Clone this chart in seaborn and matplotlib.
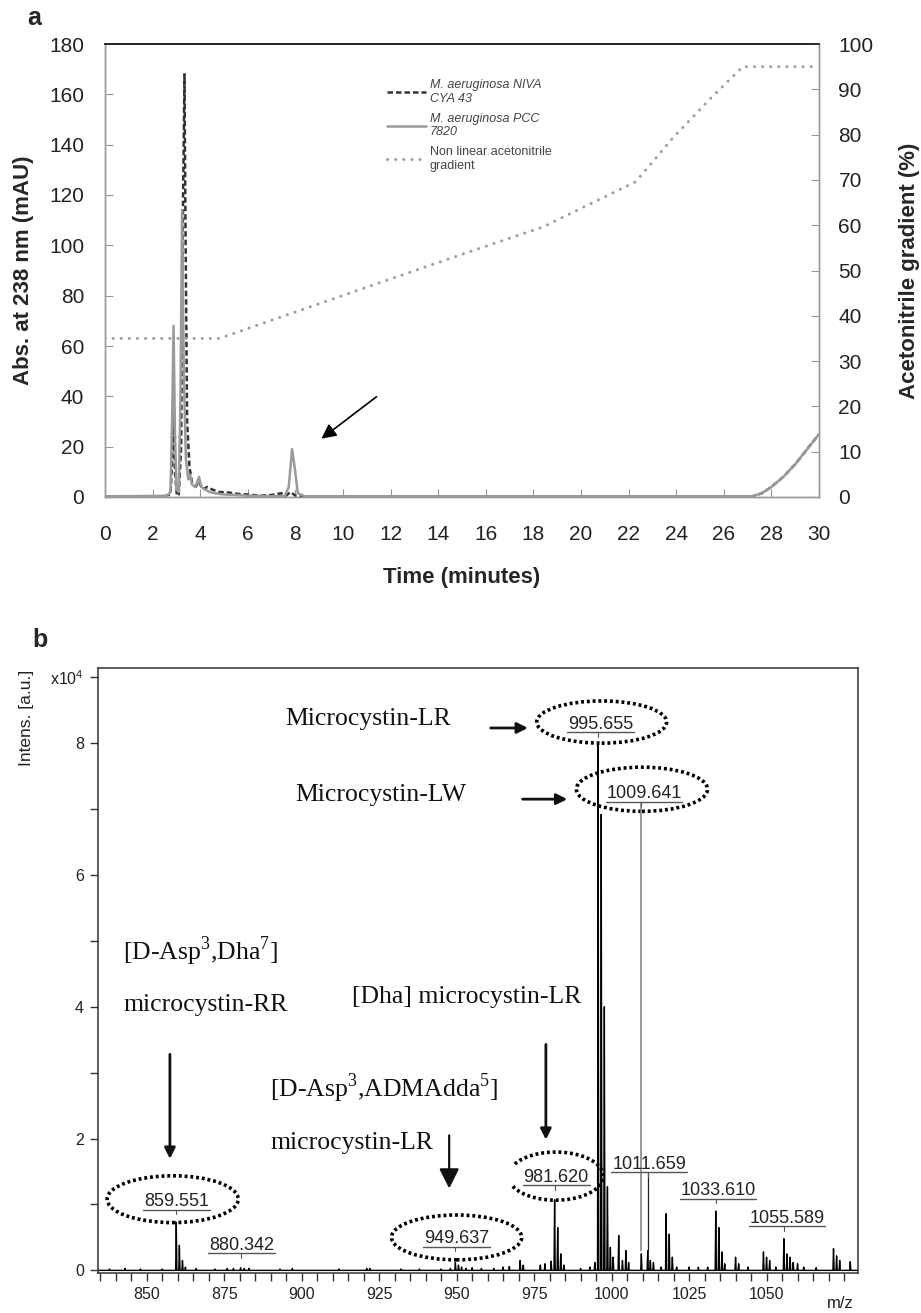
import numpy as np
import pandas as pd
import matplotlib
matplotlib.use("Agg")
import matplotlib.pyplot as plt
import seaborn as sns
from matplotlib.patches import Ellipse

# ---- panel a: HPLC traces ----
niva_time = [0, 2.5, 2.75, 2.83, 2.88, 2.94, 3.02, 3.1, 3.2, 3.28, 3.34, 3.38, 3.45, 3.55, 3.65,
             3.8, 3.95, 4.1, 4.3, 4.5, 4.8, 5.2, 5.6, 6.0, 6.5, 7.0, 7.4, 7.6, 7.8, 8.0, 8.3,
             27.2, 27.6, 28.0, 28.5, 29.0, 29.5, 30]
niva_abs = [0.2, 0.3, 1, 15, 38, 10, 0.5, 1, 20, 120, 168, 110, 30, 12, 6,
            4, 6, 3, 4, 3, 2, 1.8, 1.2, 1, 0.5, 0.8, 1.5, 0.5, 2, 0.5, 0.3,
            0.3, 1.5, 4, 8, 13, 19, 25]
pcc_time = [0, 2.0, 2.6, 2.75, 2.82, 2.88, 2.94, 3.0, 3.1, 3.17, 3.24, 3.31, 3.4, 3.5, 3.57,
            3.65, 3.78, 3.88, 3.95, 4.05, 4.2, 4.4, 4.6, 5.0, 5.5, 6.0, 7.0, 7.55, 7.72, 7.86,
            7.98, 8.1, 8.4, 27.2, 27.6, 28.0, 28.5, 29.0, 29.5, 30]
pcc_abs = [0.3, 0.4, 0.5, 2, 30, 68, 25, 3, 2, 40, 114, 50, 15, 7, 9,
           5, 4, 6, 8, 4, 3, 2, 1.5, 1, 0.8, 0.5, 0.3, 0.3, 4, 19,
           11, 1.5, 0.3, 0.3, 1.5, 4, 8, 13, 19, 25]
grad_time = [0, 4.8, 10, 14.9, 18.4, 22.3, 23.9, 25.5, 26.8, 30]
grad_pct = [35, 35, 44.5, 53.4, 59.6, 69.6, 79.5, 88.3, 95, 95]
legend_labels = ["M. aeruginosa NIVA\nCYA 43", "M. aeruginosa PCC\n7820",
                 "Non linear acetonitrile\ngradient"]

# ---- panel b: MALDI-TOF spectrum (intensity in 1e4 a.u.) ----
ms_mz = [838, 843, 848, 855, 859.55, 860.55, 861.55, 862.5, 866, 872, 876, 878, 880.3, 881.5,
         883, 893, 897, 912, 921, 922, 932, 938, 945, 948, 949.6, 950.6, 951.6, 953, 955, 958,
         962, 965, 967, 970.5, 971.5, 977, 978.5, 980.5, 981.62, 982.62, 983.6, 984.6, 990,
         993, 994.6, 995.655, 996.66, 997.66, 998.66, 999.6, 1000.5, 1002.3, 1003.5, 1004.6,
         1005.5, 1009.6, 1011.66, 1012.5, 1013.5, 1016, 1017.6, 1018.6, 1019.6, 1021, 1025,
         1028, 1031, 1033.61, 1034.6, 1035.6, 1036.5, 1040, 1041, 1044, 1049, 1050, 1051, 1053,
         1055.59, 1056.6, 1057.6, 1058.6, 1060, 1062, 1066, 1071.6, 1072.6, 1073.6, 1077]
ms_int = [0.02, 0.03, 0.02, 0.02, 0.73, 0.38, 0.15, 0.05, 0.03, 0.02, 0.03, 0.03, 0.04, 0.03,
          0.03, 0.02, 0.03, 0.02, 0.03, 0.03, 0.02, 0.02, 0.02, 0.03, 0.12, 0.08, 0.05, 0.03, 0.04, 0.03,
          0.03, 0.05, 0.06, 0.15, 0.08, 0.08, 0.1, 0.14, 1.07, 0.65, 0.25, 0.08, 0.03,
          0.05, 0.12, 8.0, 6.92, 4.0, 1.27, 0.35, 0.2, 0.53, 0.15, 0.3,
          0.12, 0.25, 0.3, 0.15, 0.12, 0.05, 0.86, 0.55, 0.2, 0.05, 0.05,
          0.05, 0.05, 0.9, 0.65, 0.28, 0.1, 0.2, 0.1, 0.05, 0.28, 0.2, 0.15, 0.05,
          0.48, 0.25, 0.2, 0.12, 0.1, 0.05, 0.04, 0.33, 0.22, 0.15, 0.13]
peak_labels = ["859.551", "880.342", "949.637", "981.620", "995.655",
               "1009.641", "1011.659", "1033.610", "1055.589"]
peak_mz = [859.551, 880.342, 949.637, 981.620, 995.655, 1009.641, 1011.659, 1033.610, 1055.589]

sns.set_style("ticks")
plt.rcParams["font.family"] = ["Liberation Sans", "DejaVu Sans"]
plt.rcParams["mathtext.fontset"] = "custom"
plt.rcParams["mathtext.rm"] = "Liberation Serif"
plt.rcParams["mathtext.sf"] = "Liberation Sans"

fig = plt.figure(figsize=(9.21, 13.13), dpi=100)
W, H = 921, 1313

# ================= panel a =================
ax = fig.add_axes([105 / W, 1 - 497 / H, 714 / W, 453 / H])
ax2 = ax.twinx()

sns.lineplot(x=niva_time, y=niva_abs, ax=ax, color="#333333", lw=1.8,
             estimator=None, sort=False, linestyle=(0, (2.2, 1.2)))
sns.lineplot(x=pcc_time, y=pcc_abs, ax=ax, color="#9a9a9a", lw=1.8,
             estimator=None, sort=False)
sns.lineplot(x=grad_time, y=grad_pct, ax=ax2, color="#a0a0a0", lw=2.2,
             estimator=None, sort=False, linestyle=(0, (0.05, 2.6)),
             solid_capstyle="round", dash_capstyle="round")

ax.set_xlim(0, 30)
ax.set_ylim(0, 180)
ax2.set_ylim(0, 100)
ax.set_xticks(range(0, 31, 2))
ax.set_yticks(range(0, 181, 20))
ax2.set_yticks(range(0, 101, 10))
ax.tick_params(axis="both", direction="in", length=6, color="#999999",
               labelsize=15, labelcolor="#222222")
ax.tick_params(axis="x", pad=20)
ax.tick_params(axis="y", pad=15)
ax2.tick_params(axis="y", direction="in", length=6, color="#999999",
                labelsize=15, labelcolor="#222222", pad=14)
for a in (ax, ax2):
    for s in ("left", "right", "bottom"):
        a.spines[s].set_color("#999999")
        a.spines[s].set_linewidth(1.0)
    a.spines["top"].set_color("#222222")
    a.spines["top"].set_linewidth(1.2)
    a.spines["top"].set_visible(True)

ax.set_xlabel("Time (minutes)", fontsize=16, fontweight="bold", labelpad=17)
ax.set_ylabel("Abs. at 238 nm (mAU)", fontsize=16, fontweight="bold", labelpad=11)
ax2.set_ylabel("Acetonitrile gradient (%)", fontsize=16, fontweight="bold", labelpad=18)
ax.get_legend() and ax.get_legend().remove()
ax2.get_legend() and ax2.get_legend().remove()

handles = [ax.lines[0], ax.lines[1], ax2.lines[0]]
leg = ax2.legend(handles, legend_labels, loc="upper left",
                 bbox_to_anchor=(376 / W, 1 - 68 / H), bbox_transform=fig.transFigure,
                 frameon=False, fontsize=9, handlelength=3.1, handletextpad=0.3,
                 labelspacing=0.6)
for i, t in enumerate(leg.get_texts()):
    t.set_color("#444444")
    if i < 2:
        t.set_fontstyle("italic")

ax.annotate("", xy=(9.0, 22.5), xytext=(11.5, 40.5),
            arrowprops=dict(arrowstyle="-|>", color="k", lw=1.2, mutation_scale=22))

fig.text(27 / W, 1 - 18 / H, "a", fontsize=18, fontweight="bold", va="center")

# ================= panel b =================
axb = fig.add_axes([98 / W, 1 - 1273 / H, 760 / W, 605 / H])
xl0, xl1 = 834.3, 1079.5

prof_x, prof_y = [xl0], [0]
for m, h in zip(ms_mz, ms_int):
    prof_x += [m - 0.2, m, m + 0.2]
    prof_y += [0, h, 0]
prof_x.append(xl1)
prof_y.append(0)
prof = pd.DataFrame({"mz": prof_x, "inten": prof_y})
sns.lineplot(data=prof, x="mz", y="inten", ax=axb, color="black", lw=1.0,
             estimator=None, sort=False)

axb.set_xlim(xl0, xl1)
axb.set_ylim(-0.04, 9.14)
axb.set_xticks(range(850, 1051, 25))
axb.set_xticks(range(835, 1080, 5), minor=True)
axb.set_yticks(range(0, 10))
axb.set_yticklabels(["0", "", "2", "", "4", "", "6", "", "8", r"x10$^{\mathsf{4}}$"])
axb.tick_params(axis="both", which="both", direction="out", length=6, width=1,
                color="#333333", labelsize=11.5, labelcolor="#222222", pad=4)
for s in axb.spines.values():
    s.set_color("#333333")
    s.set_linewidth(1.1)
axb.set_xlabel("")
axb.set_ylabel("")
fig.text(27 / W, 1 - 670 / H, "Intens. [a.u.]", rotation=90, fontsize=12.5,
         va="top", ha="center", color="#222222")
fig.text(840 / W, 1 - 1303 / H, "m/z", fontsize=12, ha="center", va="center",
         color="#222222")
fig.text(32 / W, 1 - 640 / H, "b", fontsize=18, fontweight="bold", va="center")

# guide lines joining labels to peaks
axb.vlines(1009.641, 0.3, 7.11, color="#888888", lw=1.2)
axb.vlines(1011.659, 0.3, 1.49, color="#222222", lw=0.9)

# peak labels: underlined values
label_pos = [(859.7, 0.92), (880.6, 0.26), (950.0, 0.36), (982.1, 1.29), (996.4, 8.17),
             (1010.4, 7.11), (1012.1, 1.49), (1034.4, 1.09), (1056.5, 0.67)]
for lab, m, (cx, uy) in zip(peak_labels, peak_mz, label_pos):
    hw = 10.8 if len(lab) == 7 else 12.3
    axb.plot([cx - hw, cx + hw], [uy, uy], color="#555555", lw=1.0)
    axb.plot([m, m], [uy, uy - 0.07], color="#555555", lw=0.8)
    axb.text(cx, uy + 0.05, lab, ha="center", va="baseline", fontsize=13,
             color="#222222")

# dotted ellipses
dots = (0, (0.8, 0.8))
for (cx, cy, w, h) in [(996.8, 8.32, 41.9, 0.64), (1009.8, 7.30, 42.3, 0.67),
                       (858.4, 1.08, 42.3, 0.71), (950.0, 0.50, 42.0, 0.68)]:
    axb.add_patch(Ellipse((cx, cy), w, h, fill=False, ec="black", lw=2.6,
                          ls=dots, clip_on=False))
# the 981.620 ring is left open on its left side
ang = np.radians(np.linspace(-155, 155, 120))
axb.plot(982.0 + 15.3 * np.cos(ang), 1.43 + 0.365 * np.sin(ang), color="black",
         lw=2.6, ls=dots)

# compound names (Times-like)
serif = dict(family=["Liberation Serif", "DejaVu Serif"], fontsize=18.5, va="center",
             ha="left", color="#111111")
axb.text(894.6, 8.36, "Microcystin-LR", **serif)
axb.text(897.8, 7.21, "Microcystin-LW", **serif)
axb.text(842.4, 4.84, r"[D-Asp$^{3}$,Dha$^{7}$]", **serif)
axb.text(842.4, 4.03, "microcystin-RR", **serif)
axb.text(916.1, 4.15, "[Dha] microcystin-LR", **serif)
axb.text(889.8, 2.77, r"[D-Asp$^{3}$,ADMAdda$^{5}$]", **serif)
axb.text(889.8, 1.94, "microcystin-LR", **serif)

arrow = dict(arrowstyle="-|>", color="#111111", lw=2.0, mutation_scale=16)
axb.annotate("", xy=(973.9, 8.23), xytext=(960.1, 8.23), arrowprops=arrow)
axb.annotate("", xy=(986.6, 7.15), xytext=(970.4, 7.15), arrowprops=arrow)
axb.annotate("", xy=(857.5, 1.65), xytext=(857.5, 3.32), arrowprops=arrow)
axb.annotate("", xy=(978.8, 1.94), xytext=(978.8, 3.47), arrowprops=arrow)
axb.annotate("", xy=(947.6, 1.20), xytext=(947.6, 2.09),
             arrowprops=dict(arrowstyle="-|>", color="#111111", lw=1.6, mutation_scale=30))

fig.savefig("out.png", dpi=100)
